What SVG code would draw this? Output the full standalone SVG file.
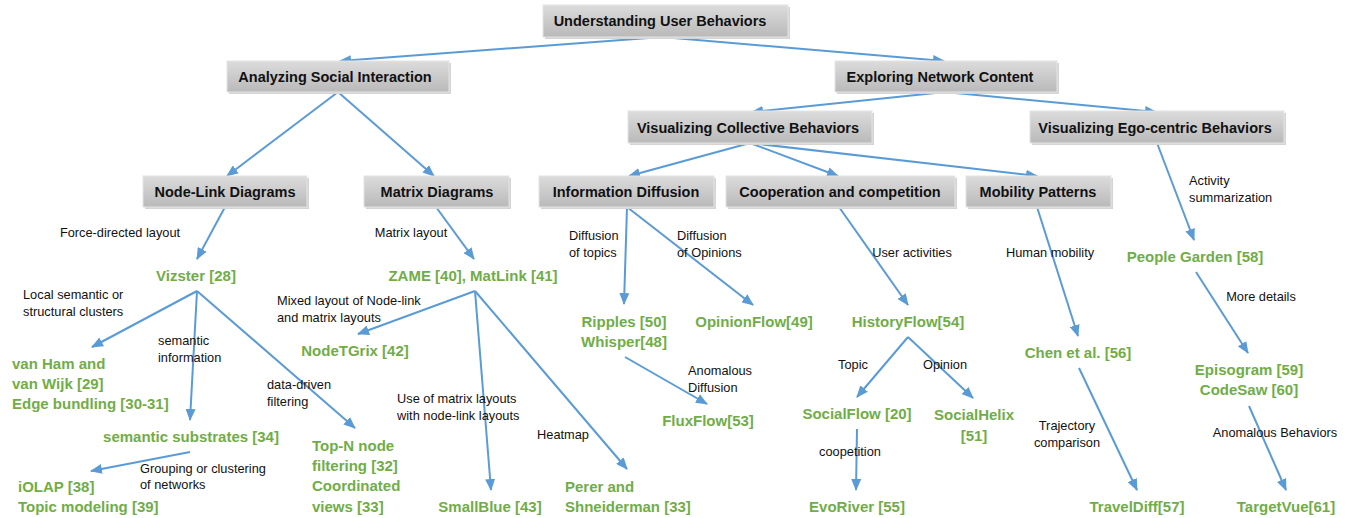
<svg xmlns="http://www.w3.org/2000/svg" width="1350" height="518" viewBox="0 0 1350 518">
<defs>
<linearGradient id="boxg" x1="0" y1="0" x2="0" y2="1">
<stop offset="0" stop-color="#dcdcdc"/>
<stop offset="1" stop-color="#b9b9b9"/>
</linearGradient>
<marker id="arr" markerUnits="userSpaceOnUse" markerWidth="12" markerHeight="10" refX="11" refY="5" orient="auto">
<path d="M0,0 L12,5 L0,10 Z" fill="#5b9bd5"/>
</marker>
<style>
.box rect.b{fill:url(#boxg);stroke:#e4e4e4;stroke-width:1}
.box rect.s{fill:#d4d4d4}
.bt{font-family:"Liberation Sans",Arial,sans-serif;font-weight:bold;font-size:14.5px;fill:#111;text-anchor:middle}
.g{font-family:"Liberation Sans",Arial,sans-serif;font-weight:bold;font-size:15px;fill:#70ad47}
.m{text-anchor:middle}
.l{font-family:"Liberation Sans",Arial,sans-serif;font-size:12.8px;fill:#111}
#connectors line{stroke:#5b9bd5;stroke-width:2;marker-end:url(#arr)}
</style>
</defs>
<rect width="1350" height="518" fill="#fff"/>

<g id="connectors">
<line x1="662" y1="37" x2="340" y2="61"/>
<line x1="662" y1="37" x2="944" y2="61"/>
<line x1="338" y1="92" x2="227" y2="176"/>
<line x1="338" y1="92" x2="434" y2="176"/>
<line x1="225" y1="207" x2="197" y2="259"/>
<line x1="436" y1="207" x2="474" y2="259"/>
<line x1="945" y1="92" x2="752" y2="112"/>
<line x1="945" y1="92" x2="1156" y2="112"/>
<line x1="750" y1="143" x2="629" y2="176"/>
<line x1="750" y1="143" x2="838" y2="176"/>
<line x1="750" y1="143" x2="1037" y2="176"/>
<line x1="1157" y1="143" x2="1194" y2="240"/>
<line x1="627" y1="207" x2="624" y2="304"/>
<line x1="627" y1="207" x2="753" y2="305"/>
<line x1="839" y1="207" x2="908" y2="305"/>
<line x1="1037" y1="207" x2="1078" y2="336"/>
<line x1="1196" y1="272" x2="1248" y2="353"/>
<line x1="197" y1="291" x2="92" y2="347"/>
<line x1="197" y1="291" x2="190" y2="420"/>
<line x1="197" y1="291" x2="355" y2="428"/>
<line x1="475" y1="291" x2="358" y2="334"/>
<line x1="475" y1="291" x2="491" y2="490"/>
<line x1="475" y1="291" x2="627" y2="469"/>
<line x1="190" y1="452" x2="91" y2="471"/>
<line x1="625" y1="357" x2="707" y2="404"/>
<line x1="908" y1="337" x2="857" y2="397"/>
<line x1="908" y1="337" x2="973" y2="398"/>
<line x1="857" y1="429" x2="856" y2="490"/>
<line x1="1079" y1="368" x2="1137" y2="490"/>
<line x1="1249" y1="406" x2="1286" y2="490"/>
</g>

<g id="n-understanding" class="box"><rect class="s" x="545" y="7" width="245" height="32"/><rect class="b" x="543" y="5" width="245" height="32"/><text class="bt" x="660" y="26">Understanding User Behaviors</text></g>
<g id="n-analyzing" class="box"><rect class="s" x="229" y="63" width="222" height="31"/><rect class="b" x="227" y="61" width="222" height="31"/><text class="bt" x="335" y="82">Analyzing Social Interaction</text></g>
<g id="n-exploring" class="box"><rect class="s" x="837" y="63" width="222" height="31"/><rect class="b" x="835" y="61" width="222" height="31"/><text class="bt" x="940" y="82">Exploring Network Content</text></g>
<g id="n-collective" class="box"><rect class="s" x="630" y="113" width="244" height="32"/><rect class="b" x="628" y="111" width="244" height="32"/><text class="bt" x="748" y="133">Visualizing Collective Behaviors</text></g>
<g id="n-ego" class="box"><rect class="s" x="1032" y="113" width="254" height="32"/><rect class="b" x="1030" y="111" width="254" height="32"/><text class="bt" x="1155" y="133">Visualizing Ego-centric Behaviors</text></g>
<g id="n-nodelink" class="box"><rect class="s" x="145" y="178" width="164" height="31"/><rect class="b" x="143" y="176" width="164" height="31"/><text class="bt" x="225" y="197">Node-Link Diagrams</text></g>
<g id="n-matrix" class="box"><rect class="s" x="366" y="178" width="145" height="31"/><rect class="b" x="364" y="176" width="145" height="31"/><text class="bt" x="437" y="197">Matrix Diagrams</text></g>
<g id="n-infodiff" class="box"><rect class="s" x="541" y="178" width="175" height="31"/><rect class="b" x="539" y="176" width="175" height="31"/><text class="bt" x="626" y="197">Information Diffusion</text></g>
<g id="n-coop" class="box"><rect class="s" x="728" y="178" width="229" height="31"/><rect class="b" x="726" y="176" width="229" height="31"/><text class="bt" x="840" y="197">Cooperation and competition</text></g>
<g id="n-mobility" class="box"><rect class="s" x="968" y="178" width="145" height="31"/><rect class="b" x="966" y="176" width="145" height="31"/><text class="bt" x="1038" y="197">Mobility Patterns</text></g>

<g id="n-vizster"><text class="g m" x="196" y="281">Vizster [28]</text></g>
<g id="n-zame"><text class="g m" x="473" y="281">ZAME [40], MatLink [41]</text></g>
<g id="n-nodetgrix"><text class="g m" x="355" y="356">NodeTGrix [42]</text></g>
<g id="n-vanham"><text class="g" x="12" y="369">van Ham and</text><text class="g" x="12" y="389">van Wijk [29]</text><text class="g" x="12" y="409">Edge bundling [30-31]</text></g>
<g id="n-substrates"><text class="g m" x="191" y="442">semantic substrates [34]</text></g>
<g id="n-iolap"><text class="g" x="18" y="492">iOLAP [38]</text><text class="g" x="18" y="512">Topic modeling [39]</text></g>
<g id="n-topn"><text class="g" x="312" y="451">Top-N node</text><text class="g" x="312" y="471">filtering [32]</text><text class="g" x="312" y="491">Coordinated</text><text class="g" x="312" y="512">views [33]</text></g>
<g id="n-smallblue"><text class="g m" x="490" y="512">SmallBlue [43]</text></g>
<g id="n-perer"><text class="g" x="565" y="492">Perer and</text><text class="g" x="565" y="512">Shneiderman [33]</text></g>
<g id="n-ripples"><text class="g m" x="624" y="327">Ripples [50]</text><text class="g m" x="624" y="347">Whisper[48]</text></g>
<g id="n-opinionflow"><text class="g m" x="754" y="327">OpinionFlow[49]</text></g>
<g id="n-fluxflow"><text class="g m" x="708" y="426">FluxFlow[53]</text></g>
<g id="n-historyflow"><text class="g m" x="908" y="327">HistoryFlow[54]</text></g>
<g id="n-socialflow"><text class="g m" x="857" y="419">SocialFlow [20]</text></g>
<g id="n-socialhelix"><text class="g m" x="974" y="420">SocialHelix</text><text class="g m" x="974" y="441">[51]</text></g>
<g id="n-evoriver"><text class="g m" x="857" y="512">EvoRiver [55]</text></g>
<g id="n-chen"><text class="g m" x="1078" y="358">Chen et al. [56]</text></g>
<g id="n-peoplegarden"><text class="g m" x="1195" y="262">People Garden [58]</text></g>
<g id="n-episogram"><text class="g m" x="1249" y="375">Episogram [59]</text><text class="g m" x="1249" y="395">CodeSaw [60]</text></g>
<g id="n-traveldiff"><text class="g m" x="1137" y="512">TravelDiff[57]</text></g>
<g id="n-targetvue"><text class="g m" x="1286" y="512">TargetVue[61]</text></g>

<g id="labels">
<text class="l m" x="120" y="237">Force-directed layout</text>
<text class="l m" x="411" y="237">Matrix layout</text>
<text class="l" x="23" y="299">Local semantic or</text><text class="l" x="23" y="316">structural clusters</text>
<text class="l" x="277" y="305">Mixed layout of Node-link</text><text class="l" x="277" y="322">and matrix layouts</text>
<text class="l" x="158" y="345">semantic</text><text class="l" x="158" y="362">information</text>
<text class="l" x="267" y="389">data-driven</text><text class="l" x="267" y="406">filtering</text>
<text class="l" x="397" y="403">Use of matrix layouts</text><text class="l" x="397" y="420">with node-link layouts</text>
<text class="l m" x="563" y="439">Heatmap</text>
<text class="l" x="140" y="473">Grouping or clustering</text><text class="l" x="140" y="489">of networks</text>
<text class="l" x="569" y="240">Diffusion</text><text class="l" x="569" y="257">of topics</text>
<text class="l" x="677" y="240">Diffusion</text><text class="l" x="677" y="257">of Opinions</text>
<text class="l m" x="912" y="257">User activities</text>
<text class="l m" x="1050" y="257">Human mobility</text>
<text class="l" x="1189" y="185">Activity</text><text class="l" x="1189" y="202">summarization</text>
<text class="l m" x="1261" y="301">More details</text>
<text class="l" x="688" y="375">Anomalous</text><text class="l" x="688" y="392">Diffusion</text>
<text class="l m" x="853" y="369">Topic</text>
<text class="l m" x="945" y="369">Opinion</text>
<text class="l m" x="850" y="456">coopetition</text>
<text class="l m" x="1067" y="430">Trajectory</text><text class="l m" x="1067" y="447">comparison</text>
<text class="l m" x="1275" y="437">Anomalous Behaviors</text>
</g>
</svg>
